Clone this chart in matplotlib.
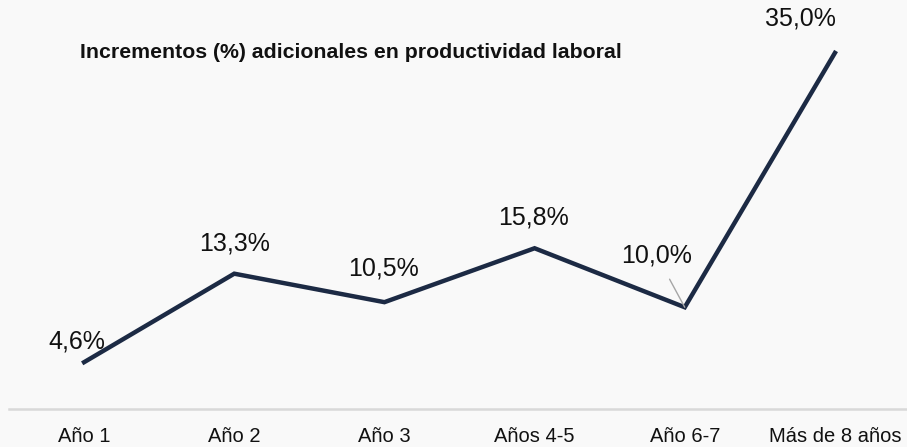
import matplotlib.pyplot as plt

plt.rcParams['font.family'] = ['Liberation Sans', 'DejaVu Sans']

categories = ['Año 1', 'Año 2', 'Año 3', 'Años 4-5', 'Año 6-7', 'Más de 8 años']
values = [4.6, 13.3, 10.5, 15.8, 10.0, 35.0]
labels = ['4,6%', '13,3%', '10,5%', '15,8%', '10,0%', '35,0%']

# label offsets in points (dx, dy) from each point
offsets = [(-5, 15), (0, 22), (-1, 24), (-1, 22), (-20, 37), (-25, 25)]

fig = plt.figure(figsize=(9.07, 4.47), dpi=100, facecolor='#f9f9f9')
ax = fig.add_axes([9 / 907, 38 / 447, 901 / 907, 409 / 447])
ax.set_facecolor('none')

x = range(len(categories))
ax.plot(x, values, color='#1c2a44', linewidth=3.2, solid_joinstyle='miter')

for i, (v, lab) in enumerate(zip(values, labels)):
    dx, dy = offsets[i]
    if i == 4:
        ax.annotate(lab, (i, v), xytext=(dx, dy), textcoords='offset points',
                    ha='center', va='center', fontsize=18, color='#111111',
                    arrowprops=dict(arrowstyle='-', color='#a6a6a6', lw=1,
                                    shrinkA=7, shrinkB=0))
    else:
        ax.annotate(lab, (i, v), xytext=(dx, dy), textcoords='offset points',
                    ha='center', va='center', fontsize=18, color='#111111')

ax.set_xlim(-0.5, 5.5)
ax.set_ylim(0, 40.2)
ax.set_xticks(list(x))
ax.set_xticklabels(categories, fontsize=14.5, color='#111111')
ax.tick_params(axis='x', length=0, pad=13)
ax.set_yticks([])

for side in ['top', 'right', 'left']:
    ax.spines[side].set_visible(False)
ax.spines['bottom'].set_color('#d9d9d9')
ax.spines['bottom'].set_linewidth(1.8)

fig.text(80 / 907, 1 - 53 / 447, 'Incrementos (%) adicionales en productividad laboral',
         fontsize=15.3, fontweight='bold', color='#111111', va='center', ha='left')

fig.savefig('out.png', dpi=100, facecolor=fig.get_facecolor())
